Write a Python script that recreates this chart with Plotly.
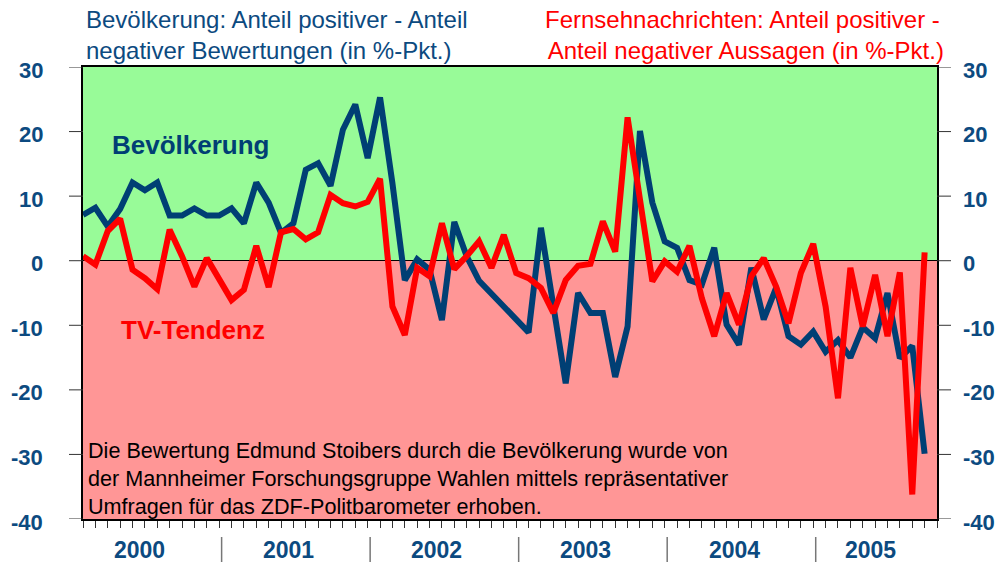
import plotly.graph_objects as go

# ---- data ----
months = [f"{y}-{m:02d}" for y in range(2000, 2006) for m in range(1, 13)][:69]

bevoelkerung = [7.1, 8.2, 5.3, 8.0, 12.1, 10.9, 12.1, 7.0, 7.0, 8.1,
                7.0, 7.0, 8.1, 5.8, 12.1, 9.0, 4.3, 5.8, 14.1, 15.1,
                11.6, 20.3, 24.2, 15.9, 25.3, 12.0, -3.0, 0.2, -1.4, -9.2,
                6.0, 0.7, -3.1, -5.1, -7.2, -9.2, -11.1, 5.1, -7.1, -19.0,
                -5.0, -8.1, -8.1, -18.0, -10.2, 20.1, 9.0, 3.0, 2.0, -3.0,
                -3.7, 2.0, -9.9, -13.0, -1.1, -9.1, -4.2, -11.7, -13.0, -11.0,
                -14.1, -12.3, -15.0, -10.3, -12.0, -5.0, -15.1, -13.2, -29.9]

tv_tendenz = [0.7, -0.6, 4.6, 6.5, -1.4, -2.7, -4.4, 4.8, 0.7, -4.0,
              0.4, -2.7, -6.1, -4.5, 2.3, -4.1, 4.4, 4.9, 3.3, 4.4,
              10.2, 8.9, 8.4, 9.1, 12.7, -7.1, -11.5, -1.1, -2.4, 5.8,
              -1.3, 0.7, 3.0, -1.1, 4.0, -1.9, -2.7, -4.2, -8.1, -3.0,
              -0.8, -0.5, 6.1, 1.4, 22.2, 9.5, -3.2, -0.1, -1.7, 2.3,
              -5.8, -11.7, -5.0, -9.9, -2.4, 0.4, -4.0, -9.7, -1.9, 2.6,
              -7.1, -21.3, -1.1, -10.2, -2.2, -11.7, -1.8, -36.2, 1.3]

year_labels = ["2000", "2001", "2002", "2003", "2004", "2005"]
y_ticks = [30, 20, 10, 0, -10, -20, -30, -40]

# ---- styling ----
FONT = "Liberation Sans, Arial, sans-serif"
DARKBLUE = "#0c4a80"
LINEBLUE = "#003f74"
RED = "#ff0000"
GREEN_BG = "#98fb98"
RED_BG = "#ff9696"

W, H = 1007, 569
L, R, T, B = 83, 70, 67, 50
PW, PH = W - L - R, H - T - B


def px(xpix):
    return (xpix - L) / PW


def py(ypix):
    return (H - B - ypix) / PH


x = list(range(len(bevoelkerung)))
n = len(x)

fig = go.Figure()
fig.add_trace(go.Scatter(x=x, y=bevoelkerung, mode="lines", name="Bevölkerung",
                         text=months, line=dict(color=LINEBLUE, width=6),
                         showlegend=False))
fig.add_trace(go.Scatter(x=x, y=tv_tendenz, mode="lines", name="TV-Tendenz",
                         text=months, line=dict(color=RED, width=6),
                         showlegend=False))

shapes = [
    dict(type="rect", xref="x", yref="y", x0=0, x1=n, y0=0, y1=30,
         fillcolor=GREEN_BG, line=dict(width=0), layer="below"),
    dict(type="rect", xref="x", yref="y", x0=0, x1=n, y0=-40, y1=0,
         fillcolor=RED_BG, line=dict(width=0), layer="below"),
]
# left / right y tick marks
for v in y_ticks:
    shapes.append(dict(type="line", xref="paper", yref="y", x0=px(69), x1=px(83),
                       y0=v, y1=v, line=dict(color="#333333", width=1)))
    shapes.append(dict(type="line", xref="paper", yref="y", x0=px(937), x1=px(951),
                       y0=v, y1=v, line=dict(color="#333333", width=1)))
# year separators below the axis
sep_start = 11.2
for k in range(len(year_labels) - 1):
    xs = sep_start + 12 * k
    shapes.append(dict(type="line", xref="x", yref="paper", x0=xs, x1=xs,
                       y0=py(537), y1=py(562), line=dict(color="#777777", width=1.5)))

annotations = []
year_pos = [4.6, 16.6, 28.6, 40.6, 52.6, 63.6]
for lab, xp in zip(year_labels, year_pos):
    annotations.append(dict(x=xp, y=py(550), xref="x", yref="paper", text=f"<b>{lab}</b>",
                            showarrow=False, xanchor="center", yanchor="middle", borderpad=0,
                            font=dict(family=FONT, size=23, color=DARKBLUE)))
for v in y_ticks:
    annotations.append(dict(x=px(44), y=v, xref="paper", yref="y", text=f"<b>{v}</b>",
                            showarrow=False, xanchor="right", yanchor="middle",
                            yshift=-3, borderpad=0,
                            font=dict(family=FONT, size=22, color=DARKBLUE)))
    annotations.append(dict(x=px(962), y=v, xref="paper", yref="y", text=f"<b>{v}</b>",
                            showarrow=False, xanchor="left", yanchor="middle",
                            yshift=-3, borderpad=0,
                            font=dict(family=FONT, size=22, color=DARKBLUE)))

annotations += [
    dict(x=px(85), y=py(35), xref="paper", yref="paper",
         text="Bevölkerung: Anteil positiver - Anteil<br>negativer Bewertungen (in %-Pkt.)",
         showarrow=False, xanchor="left", yanchor="middle", align="left", borderpad=0,
         font=dict(family=FONT, size=24, color=DARKBLUE)),
    dict(x=px(742), y=py(35), xref="paper", yref="paper",
         text="Fernsehnachrichten: Anteil positiver -<br>\u00a0Anteil negativer Aussagen (in %-Pkt.)",
         showarrow=False, xanchor="center", yanchor="middle", align="center", borderpad=0,
         font=dict(family=FONT, size=24, color=RED)),
    dict(x=px(111), y=py(145), xref="paper", yref="paper",
         text="<b>Bevölkerung</b>", showarrow=False, xanchor="left", yanchor="middle",
         borderpad=0, font=dict(family=FONT, size=26, color=LINEBLUE)),
    dict(x=px(120), y=py(330), xref="paper", yref="paper",
         text="<b>TV-Tendenz</b>", showarrow=False, xanchor="left", yanchor="middle",
         borderpad=0, font=dict(family=FONT, size=26, color=RED)),
    dict(x=px(87), y=py(478), xref="paper", yref="paper",
         text="Die Bewertung Edmund Stoibers durch die Bevölkerung wurde von<br>"
              "der Mannheimer Forschungsgruppe Wahlen mittels repräsentativer<br>"
              "Umfragen für das ZDF-Politbarometer erhoben.",
         showarrow=False, xanchor="left", yanchor="middle", align="left", borderpad=0,
         font=dict(family=FONT, size=21.6, color="#000000")),
]

fig.update_layout(
    width=W, height=H,
    margin=dict(l=L, r=R, t=T, b=B, pad=0),
    paper_bgcolor="white", plot_bgcolor="white",
    font=dict(family=FONT),
    shapes=shapes, annotations=annotations,
    xaxis=dict(range=[0, n], showgrid=False, zeroline=False,
               tickmode="array", tickvals=list(range(0, n + 1)),
               ticks="outside", ticklen=7, tickcolor="#333333", tickwidth=1,
               showticklabels=False, showline=True, linecolor="black",
               linewidth=2, mirror=True),
    yaxis=dict(range=[-40, 30], showgrid=False, zeroline=True,
               zerolinecolor="black", zerolinewidth=1,
               showticklabels=False, ticks="",
               showline=True, linecolor="black", linewidth=2, mirror=True),
)

fig.write_html("out.html", config={"displayModeBar": False},
               post_script="document.body.style.margin='0';document.body.style.overflow='hidden';")
